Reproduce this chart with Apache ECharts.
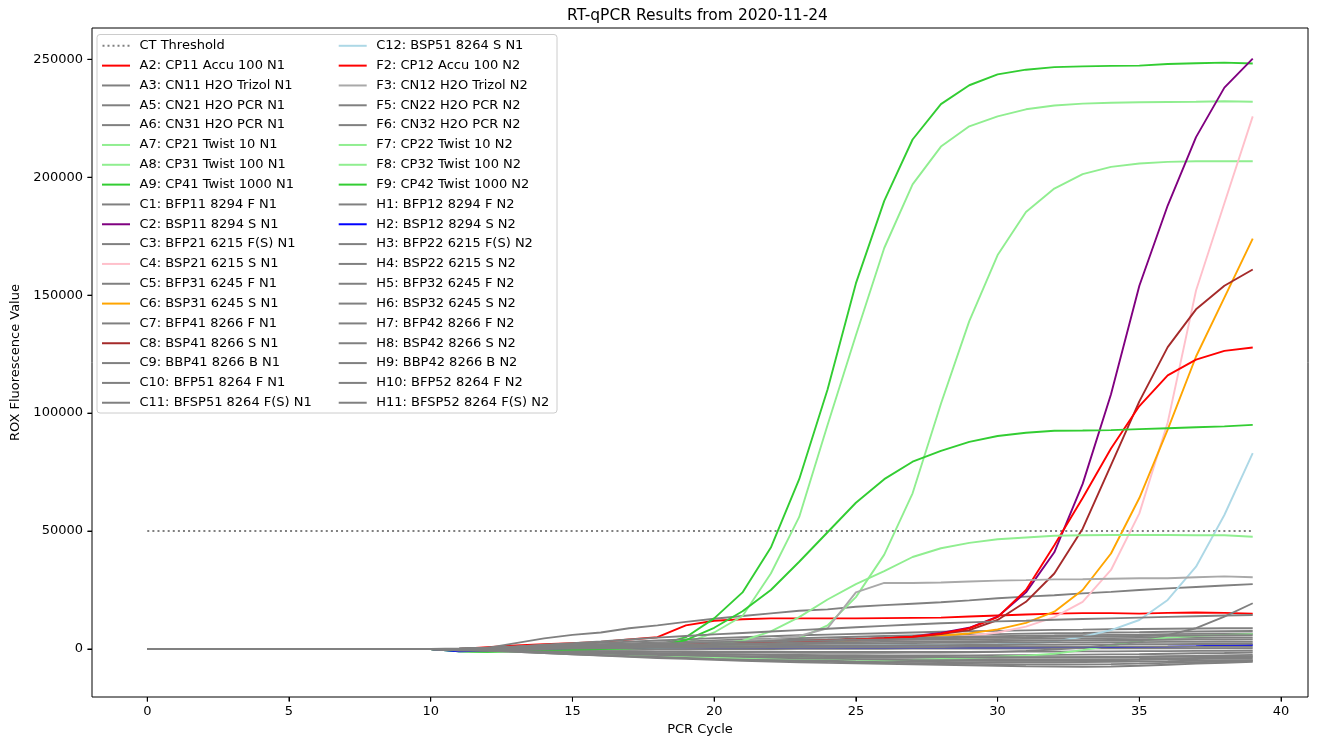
<!DOCTYPE html>
<html>
<head>
<meta charset="utf-8">
<script src="https://cdn.jsdelivr.net/npm/echarts@6/dist/echarts.min.js"></script>
<style>
html,body{margin:0;padding:0;background:#fff;}
#chart{width:1317px;height:743px;}
</style>
</head>
<body>
<div id="chart"></div>
<script>
// ---------- DATA ----------
const cycles = [0,1,2,3,4,5,6,7,8,9,10,11,12,13,14,15,16,17,18,19,20,21,22,23,24,25,26,27,28,29,30,31,32,33,34,35,36,37,38,39];
const ctThreshold = 50000;
const xTickValues = [0,5,10,15,20,25,30,35,40];
const yTickValues = [0,50000,100000,150000,200000,250000];

const A2 = [0,0,0,0,0,0,0,0,0,0,0, 0,800,1500,2000,2500,3000,4000,5000,10000,12000,12600,13000,13000,13000,13000,13100,13200,13300,13800,14200,14600,15000,15200,15200,15000,15300,15500,15300,15000];
const A3 = [0,0,0,0,0,0,0,0,0,0,0, 0,500,2500,4500,6000,7000,8800,10000,11500,12800,14000,15100,16200,16800,17900,18600,19200,19800,20600,21500,22200,22800,23600,24200,25000,25700,26300,26900,27500];
const A5 = [0,0,0,0,0,0,0,0,0,0,0, -600,-500,-400,-300,-300,-200,-200,-100,-100,0,0,0,100,100,100,100,200,200,200,200,200,300,300,300,300,300,300,300,300];
const A6 = [0,0,0,0,0,0,0,0,0,0,0, -700,-700,-700,-800,-800,-900,-900,-1000,-1000,-1100,-1100,-1100,-1200,-1200,-1200,-1200,-1200,-1200,-1200,-1100,-1100,-1100,-1000,-1000,-900,-900,-800,-800,-700];
const A7 = [0,0,0,0,0,0,0,0,0,0,0, -500,-700,-500,-300,-100,100,300,500,800,1200,1800,2800,4500,10000,22000,40000,66000,104000,139000,167000,185300,195200,201300,204400,205800,206500,206800,206800,206800];
const A8 = [0,0,0,0,0,0,0,0,0,0,0, -500,-800,-600,-300,0,200,500,1000,2500,7000,14000,32000,56000,95000,133000,170000,197000,213000,221600,225800,228800,230400,231200,231600,231800,231900,232000,232200,232000];
const A9 = [0,0,0,0,0,0,0,0,0,0,0, -1000,-1200,-800,-300,0,200,500,1500,5000,13000,24000,43000,72000,110000,155000,190000,216000,231000,239000,243600,245600,246700,247000,247200,247300,248000,248300,248600,248200];
const C1 = [0,0,0,0,0,0,0,0,0,0,0, 200,600,1100,1600,2100,2600,3100,3600,4100,4600,5000,5400,5800,6100,6400,6700,7000,7300,7500,7700,7900,8100,8200,8400,8500,8600,8700,8800,8800];
const C2 = [0,0,0,0,0,0,0,0,0,0,0, -300,0,300,600,900,1200,1500,1800,2000,2200,2500,2800,3100,3500,4000,4600,5400,6800,9000,13700,24000,41000,70000,108000,154000,188000,217000,238000,250300];
const C3 = [0,0,0,0,0,0,0,0,0,0,0, 100,400,800,1200,1600,2000,2400,2800,3200,3600,4000,4300,4600,4900,5200,5500,5700,5900,6100,6300,6500,6700,6800,7000,7100,7300,7400,7500,7600];
const C4 = [0,0,0,0,0,0,0,0,0,0,0, -200,0,200,500,700,1000,1200,1500,1700,2000,2200,2500,2800,3100,3400,3700,4100,4500,5500,7000,9500,13500,20000,33500,57500,96000,152000,189000,225800];
const C5 = [0,0,0,0,0,0,0,0,0,0,0, -800,-900,-1000,-1200,-1400,-1600,-1800,-2000,-2100,-2200,-2300,-2400,-2500,-2600,-2600,-2700,-2700,-2700,-2700,-2600,-2600,-2500,-2400,-2300,-2200,-2000,-1800,-1700,-1500];
const C6 = [0,0,0,0,0,0,0,0,0,0,0, -200,0,300,500,800,1000,1300,1500,1800,2000,2300,2600,2900,3200,3600,4000,4600,5700,6600,8300,11100,15800,25000,40500,64000,93000,124000,149000,174000];
const C7 = [0,0,0,0,0,0,0,0,0,0,0, 100,300,600,900,1300,1700,2000,2400,2700,3000,3300,3600,3900,4100,4400,4600,4800,5000,5200,5400,5600,5700,5900,6000,6100,6300,6400,6500,6600];
const C8 = [0,0,0,0,0,0,0,0,0,0,0, -300,0,300,600,900,1200,1500,1800,2000,2300,2600,2900,3200,3600,4000,4500,5200,6300,8000,12300,20000,32000,51000,78000,105000,128000,144000,154000,160900];
const C9 = [0,0,0,0,0,0,0,0,0,0,0, -600,-800,-1000,-1300,-1600,-1900,-2200,-2500,-2700,-2900,-3100,-3300,-3400,-3500,-3600,-3700,-3700,-3700,-3700,-3700,-3600,-3600,-3500,-3400,-3300,-3100,-2900,-2700,-2500];
const C10 = [0,0,0,0,0,0,0,0,0,0,0, 0,200,500,800,1100,1400,1700,2000,2300,2500,2800,3000,3200,3400,3600,3800,3900,4000,4100,4200,4300,4400,4500,4600,4700,4700,4800,4900,4900];
const C11 = [0,0,0,0,0,0,0,0,0,0,0, -500,-600,-700,-800,-900,-1000,-1100,-1200,-1300,-1400,-1500,-1500,-1600,-1600,-1600,-1600,-1500,-1500,-1400,-1200,-800,-200,600,1700,3100,5900,8800,13700,19400];
const C12 = [0,0,0,0,0,0,0,0,0,0,0, -400,-200,0,200,400,600,700,800,900,1000,1100,1200,1300,1400,1500,1600,1700,1800,1900,2000,2400,3100,5200,8000,12300,20800,34900,56800,83000];
const F2 = [0,0,0,0,0,0,0,0,0,0,0, -300,0,300,600,900,1200,1500,1800,2100,2400,2700,3000,3300,3700,4100,4600,5200,6500,8800,13500,25000,44000,64000,85000,103000,116000,122700,126400,127800];
const F3 = [0,0,0,0,0,0,0,0,0,0,0, -300,0,300,700,1000,1400,1800,2200,2600,3000,3500,4200,5500,8800,24000,28000,28000,28200,28600,29000,29200,29500,29600,29800,30000,30000,30400,30800,30400];
const F5 = [0,0,0,0,0,0,0,0,0,0,0, -500,-800,-1100,-1500,-1900,-2300,-2700,-3000,-3300,-3600,-3800,-4000,-4200,-4300,-4400,-4500,-4600,-4600,-4600,-4600,-4500,-4500,-4400,-4300,-4200,-4000,-3800,-3700,-3500];
const F6 = [0,0,0,0,0,0,0,0,0,0,0, -400,-800,-1200,-1700,-2200,-2700,-3100,-3500,-3800,-4100,-4400,-4600,-4800,-5000,-5200,-5300,-5400,-5500,-5600,-5600,-5600,-5600,-5500,-5400,-5300,-5200,-5000,-4800,-4700];
const F7 = [0,0,0,0,0,0,0,0,0,0,0, -800,-1200,-1000,-1500,-2000,-2500,-3000,-3300,-3500,-3700,-3900,-4000,-4100,-4200,-4500,-4800,-4600,-4200,-3800,-3300,-2800,-2000,-500,1500,3500,4800,5500,6000,6300];
const F8 = [0,0,0,0,0,0,0,0,0,0,0, -500,-700,-400,-200,0,200,400,700,1200,2000,3500,7500,13500,21000,27500,33000,39000,42700,45000,46500,47300,48000,48200,48300,48300,48300,48200,48200,47600];
const F9 = [0,0,0,0,0,0,0,0,0,0,0, -1000,-1200,-800,-500,-200,0,300,1000,3800,9000,16000,25000,37000,49500,62000,72000,79400,84000,87800,90300,91700,92500,92600,92800,93200,93600,94000,94400,95000];
const H1 = [0,0,0,0,0,0,0,0,0,0,0, 0,300,1000,1800,2500,3200,4000,4800,5500,6200,6800,7400,8000,8600,9200,9800,10400,10900,11300,11700,12000,12400,12700,13000,13300,13600,13900,14200,14400];
const H2 = [0,0,0,0,0,0,0,0,0,0,0, -1000,-700,-200,200,400,500,600,700,700,700,700,700,700,700,700,700,700,700,700,700,700,800,800,800,900,1000,1200,1500,1700];
const H3 = [0,0,0,0,0,0,0,0,0,0,0, -200,0,300,600,900,1200,1500,1700,1900,2100,2300,2500,2700,2800,2900,3000,3100,3200,3300,3400,3500,3600,3700,3800,3800,3900,4000,4000,4100];
const H4 = [0,0,0,0,0,0,0,0,0,0,0, -300,-700,-1200,-1700,-2300,-2800,-3300,-3800,-4200,-4600,-5000,-5300,-5600,-5900,-6100,-6300,-6500,-6700,-6900,-7100,-7300,-7400,-7500,-7400,-7100,-6700,-6200,-5800,-5400];
const H5 = [0,0,0,0,0,0,0,0,0,0,0, -300,-100,200,400,700,900,1100,1300,1500,1700,1800,2000,2100,2200,2300,2400,2500,2600,2600,2700,2700,2800,2800,2900,2900,3000,3000,3100,3100];
const H6 = [0,0,0,0,0,0,0,0,0,0,0, -300,-600,-1000,-1500,-2000,-2500,-3000,-3400,-3800,-4200,-4500,-4800,-5100,-5400,-5600,-5800,-6000,-6200,-6300,-6400,-6500,-6500,-6500,-6400,-6200,-5900,-5600,-5300,-5000];
const H7 = [0,0,0,0,0,0,0,0,0,0,0, -400,-300,0,200,400,600,800,900,1000,1100,1200,1300,1400,1400,1500,1500,1600,1600,1700,1700,1800,1800,1900,1900,2000,2000,2100,2100,2200];
const H8 = [0,0,0,0,0,0,0,0,0,0,0, -500,-700,-900,-1200,-1500,-1800,-2100,-2400,-2700,-3000,-3300,-3600,-3900,-4100,-4300,-4500,-4700,-4800,-4900,-5000,-5000,-5000,-4900,-4800,-4600,-4400,-4300,-4100,-4000];
const H9 = [0,0,0,0,0,0,0,0,0,0,0, -600,-700,-800,-1000,-1200,-1400,-1600,-1800,-2000,-2200,-2400,-2600,-2800,-3000,-3100,-3200,-3300,-3400,-3500,-3500,-3500,-3500,-3500,-3400,-3400,-3300,-3200,-3100,-3000];
const H10 = [0,0,0,0,0,0,0,0,0,0,0, -500,-400,-200,0,200,300,400,500,500,600,600,700,700,700,800,800,800,800,900,900,900,900,900,1000,1000,1000,1000,1000,1000];
const H11 = [0,0,0,0,0,0,0,0,0,0,0, 0,300,700,1000,1400,1700,2000,2300,2600,2900,3100,3300,3500,3700,3900,4100,4300,4500,4700,4900,5000,5200,5300,5400,5500,5600,5700,5800,5900];

// sample list: [legend label, values, colour]
const samples = [
  ['A2: CP11 Accu 100 N1', A2, '#ff0000'],
  ['A3: CN11 H2O Trizol N1', A3, '#808080'],
  ['A5: CN21 H2O PCR N1', A5, '#808080'],
  ['A6: CN31 H2O PCR N1', A6, '#808080'],
  ['A7: CP21 Twist 10 N1', A7, '#90ee90'],
  ['A8: CP31 Twist 100 N1', A8, '#90ee90'],
  ['A9: CP41 Twist 1000 N1', A9, '#32cd32'],
  ['C1: BFP11 8294 F N1', C1, '#808080'],
  ['C2: BSP11 8294 S N1', C2, '#800080'],
  ['C3: BFP21 6215 F(S) N1', C3, '#808080'],
  ['C4: BSP21 6215 S N1', C4, '#ffc0cb'],
  ['C5: BFP31 6245 F N1', C5, '#808080'],
  ['C6: BSP31 6245 S N1', C6, '#ffa500'],
  ['C7: BFP41 8266 F N1', C7, '#808080'],
  ['C8: BSP41 8266 S N1', C8, '#a52a2a'],
  ['C9: BBP41 8266 B N1', C9, '#808080'],
  ['C10: BFP51 8264 F N1', C10, '#808080'],
  ['C11: BFSP51 8264 F(S) N1', C11, '#808080'],
  ['C12: BSP51 8264 S N1', C12, '#add8e6'],
  ['F2: CP12 Accu 100 N2', F2, '#ff0000'],
  ['F3: CN12 H2O Trizol N2', F3, '#a9a9a9'],
  ['F5: CN22 H2O PCR N2', F5, '#808080'],
  ['F6: CN32 H2O PCR N2', F6, '#808080'],
  ['F7: CP22 Twist 10 N2', F7, '#90ee90'],
  ['F8: CP32 Twist 100 N2', F8, '#90ee90'],
  ['F9: CP42 Twist 1000 N2', F9, '#32cd32'],
  ['H1: BFP12 8294 F N2', H1, '#808080'],
  ['H2: BSP12 8294 S N2', H2, '#0000ff'],
  ['H3: BFP22 6215 F(S) N2', H3, '#808080'],
  ['H4: BSP22 6215 S N2', H4, '#808080'],
  ['H5: BFP32 6245 F N2', H5, '#808080'],
  ['H6: BSP32 6245 S N2', H6, '#808080'],
  ['H7: BFP42 8266 F N2', H7, '#808080'],
  ['H8: BSP42 8266 S N2', H8, '#808080'],
  ['H9: BBP42 8266 B N2', H9, '#808080'],
  ['H10: BFP52 8264 F N2', H10, '#808080'],
  ['H11: BFSP52 8264 F(S) N2', H11, '#808080']
];
const thresholdName = 'CT Threshold';

// ---------- CHART ----------
const FONT = 'DejaVu Sans';
const X_MIN = -1.95, X_MAX = 40.95;
const Y_MIN = -20350, Y_MAX = 263270;
const chart = echarts.init(document.getElementById('chart'), null, {renderer: 'canvas'});

const series = [];
series.push({
  name: thresholdName,
  type: 'line',
  symbol: 'none',
  silent: true,
  data: [[cycles[0], ctThreshold], [cycles[cycles.length - 1], ctThreshold]],
  itemStyle: {color: '#808080'},
  lineStyle: {color: '#808080', width: 1.9, type: [2, 3.1]},
  z: 2
});
samples.forEach(s => {
  series.push({
    name: s[0],
    type: 'line',
    symbol: 'none',
    silent: true,
    data: cycles.map((c, i) => [c, s[1][i]]),
    itemStyle: {color: s[2]},
    lineStyle: {color: s[2], width: 1.9},
    z: 2
  });
});
// outside tick marks (matplotlib style) drawn in thin strip grids beside the plot,
// whose axes share the main axes' ranges
function tickSeries(id, xi, yi, pts) {
  return {
    name: id, type: 'line', symbol: 'none', silent: true, clip: false, z: 5,
    xAxisIndex: xi, yAxisIndex: yi,
    data: pts,
    itemStyle: {color: '#000'},
    lineStyle: {color: '#000', width: 1}
  };
}
xTickValues.forEach((v, i) => series.push(tickSeries('xtick' + i, 1, 1, [[v, 0], [v, 1]])));
yTickValues.forEach((v, i) => series.push(tickSeries('ytick' + i, 2, 2, [[0, v], [1, v]])));

const names = [thresholdName].concat(samples.map(s => s[0]));
const col1 = names.slice(0, 19);
const col2 = names.slice(19);
const dotIcon = 'path://M0,0h2v2h-2zM5,0h2v2h-2zM10,0h2v2h-2zM15,0h2v2h-2zM20,0h2v2h-2zM25,0h2v2h-2z';
function legendData(list) {
  return list.map(n => n === thresholdName ? {name: n, icon: dotIcon} : {name: n, icon: 'rect'});
}
function makeLegend(list, left) {
  return {
    show: true,
    orient: 'vertical',
    left: left,
    top: 38.8,
    padding: 0,
    itemGap: 5.83,
    itemWidth: 28,
    itemHeight: 2,
    selectedMode: false,
    z: 20,
    itemStyle: {borderWidth: 0},
    textStyle: {fontFamily: FONT, fontSize: 13, color: '#000', lineHeight: 14, padding: [0, 0, 0, 4.5]},
    data: legendData(list)
  };
}
const hiddenAxis = (grid, min, max) => ({
  type: 'value', gridIndex: grid, min: min, max: max, show: false,
  axisLine: {show: false, onZero: false}, axisTick: {show: false}, axisLabel: {show: false}, splitLine: {show: false}
});

const option = {
  animation: false,
  backgroundColor: '#fff',
  title: {
    text: 'RT-qPCR Results from 2020-11-24',
    left: 567,
    top: 8,
    padding: 0,
    textStyle: {fontFamily: FONT, fontSize: 15.5, fontWeight: 'normal', color: '#000'}
  },
  grid: [
    {left: 92, right: 9, top: 28, bottom: 46,
     show: true, borderColor: '#000', borderWidth: 1, backgroundColor: 'transparent'},
    {left: 92, right: 9, top: 697, height: 4.5, show: false},
    {left: 87.5, width: 4.5, top: 28, bottom: 46, show: false}
  ],
  graphic: [{
    type: 'rect',
    z: 15,
    shape: {x: 97, y: 34.5, width: 460, height: 378.5, r: 3},
    style: {fill: 'rgba(255,255,255,0.8)', stroke: '#cccccc', lineWidth: 1}
  }],
  legend: [makeLegend(col1, 102), makeLegend(col2, 338.7)],
  xAxis: [{
    type: 'value',
    gridIndex: 0,
    min: X_MIN,
    max: X_MAX,
    name: 'PCR Cycle',
    nameLocation: 'middle',
    nameGap: 25,
    nameTextStyle: {fontFamily: FONT, fontSize: 13, color: '#000'},
    axisLine: {show: false, onZero: false},
    splitLine: {show: false},
    axisTick: {show: true, inside: false, length: 4.5, customValues: xTickValues,
      lineStyle: {color: '#000', width: 1}},
    axisLabel: {customValues: xTickValues, fontFamily: FONT, fontSize: 13, color: '#000', margin: 8,
      formatter: v => String(v)}
  }, hiddenAxis(1, X_MIN, X_MAX), hiddenAxis(2, 0, 1)],
  yAxis: [{
    type: 'value',
    gridIndex: 0,
    min: Y_MIN,
    max: Y_MAX,
    name: 'ROX Fluorescence Value',
    nameLocation: 'middle',
    nameGap: 61,
    nameTextStyle: {fontFamily: FONT, fontSize: 13, color: '#000'},
    axisLine: {show: false, onZero: false},
    splitLine: {show: false},
    axisTick: {show: true, inside: false, length: 4.5, customValues: yTickValues,
      lineStyle: {color: '#000', width: 1}},
    axisLabel: {customValues: yTickValues, fontFamily: FONT, fontSize: 13, color: '#000', margin: 9,
      formatter: v => String(v)}
  }, hiddenAxis(1, 0, 1), hiddenAxis(2, Y_MIN, Y_MAX)],
  series: series
};
chart.setOption(option);
</script>
</body>
</html>
